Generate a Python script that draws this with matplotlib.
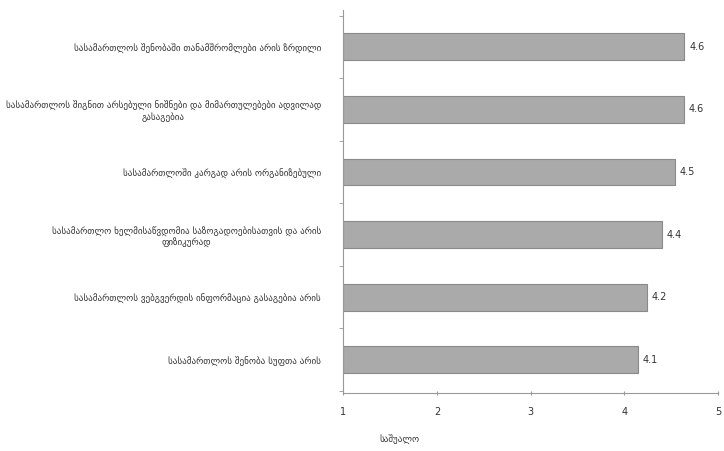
import matplotlib
matplotlib.use("Agg")
import matplotlib.pyplot as plt
import numpy as np

categories = [
    "სასამართლოს შენობაში თანამშრომლები არის ზრდილი",
    "სასამართლოს შიგნით არსებული ნიშნები და მიმართულებები ადვილად\nგასაგებია",
    "სასამართლოში კარგად არის ორგანიზებული",
    "სასამართლო ხელმისაწვდომია საზოგადოებისათვის და არის\nფიზიკურად",
    "სასამართლოს ვებგვერდის ინფორმაცია გასაგებია არის",
    "სასამართლოს შენობა სუფთა არის",
]
values = [4.64, 4.63, 4.54, 4.40, 4.24, 4.14]
xticks = [1, 2, 3, 4, 5]
xlabel = "საშუალო"

plt.rcParams['font.family'] = ['DejaVu Sans']
fig = plt.figure(figsize=(7.24, 4.51), dpi=100)
ax = fig.add_axes([0.474, 0.129, 0.518, 0.849])

y = np.arange(len(categories))
ax.barh(y, [v - 1 for v in values], left=1, height=0.43,
        color="#aaaaaa", edgecolor="#8a8a8a", linewidth=0.8)
for yi, v in zip(y, values):
    ax.text(v + 0.05, yi, f"{v:.1f}", va="center", ha="left",
            fontsize=7, color="#333333")

ax.set_xlim(1, 5)
ax.set_ylim(5.53, -0.59)
ax.set_xticks(xticks)
ax.set_xticklabels([str(t) for t in xticks], fontsize=7, color="#333333")
ax.set_yticks(y)
ax.set_yticklabels(categories, fontsize=6.5, color="#333333", multialignment="center")
ax.set_yticks(np.arange(-0.5, len(categories), 1), minor=True)
ax.tick_params(axis="y", which="major", length=0, pad=16)
ax.tick_params(axis="y", which="minor", length=3, color="#999999", direction="out")
ax.tick_params(axis="x", length=3, color="#999999", direction="inout", pad=9)

for s in ["top", "right"]:
    ax.spines[s].set_visible(False)
for s in ["left", "bottom"]:
    ax.spines[s].set_color("#999999")
    ax.spines[s].set_linewidth(0.8)

ax.text(0.15, -0.122, xlabel, transform=ax.transAxes, ha="center", va="center",
        fontsize=6.5, color="#333333")

fig.savefig("out.png", dpi=100, facecolor="white")
